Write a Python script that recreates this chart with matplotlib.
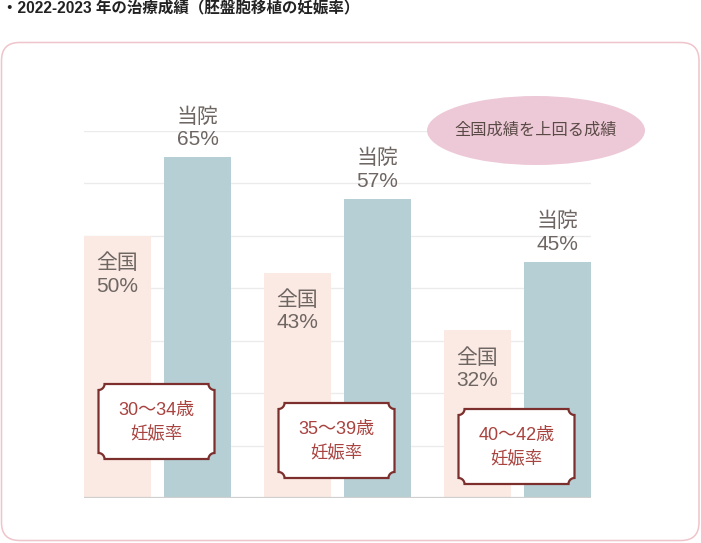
import numpy as np
import matplotlib
matplotlib.use("Agg")
import matplotlib.pyplot as plt
from matplotlib.patches import FancyBboxPatch, Ellipse, PathPatch
from matplotlib.path import Path

# Latin digits from Liberation Sans, Japanese glyphs fall back to Noto CJK
plt.rcParams['font.family'] = ['Liberation Sans', 'Noto Sans CJK JP', 'DejaVu Sans']

# data
age_groups = ['30〜34歳', '35〜39歳', '40〜42歳']
national = [50, 43, 32]
clinic = [65, 57, 45]
national_name = '全国'
clinic_name = '当院'
title = '・2022-2023 年の治療成績（胚盤胞移植の妊娠率）'
badge = '全国成績を上回る成績'
grid_ticks = [10, 20, 30, 40, 50, 60, 70]

# colours
c_nat = '#fbe9e3'
c_cli = '#b5cfd4'
c_txt = '#6e6663'
c_red = '#a8433f'
c_border = '#7c2f2c'

W, H = 701, 543
fig = plt.figure(figsize=(W / 100, H / 100), dpi=100)

# main bar axes: y=0 at px 498, y=70 at px 131, x from px 84 to 591
ax = fig.add_axes([84 / W, (H - 498) / H, 507 / W, (498 - 131) / H])
ax.set_xlim(-0.4083, 2.4083)
ax.set_ylim(0, 70)
ax.patch.set_alpha(0)
for s in ax.spines.values():
    s.set_visible(False)
ax.set_xticks([])
ax.set_yticks([])
for t in grid_ticks:
    ax.axhline(t, color='#ebebeb', lw=1, zorder=0)
ax.axhline(0, color='#cfcfcf', lw=1.6, zorder=3)

x = np.arange(len(age_groups))
off = 40 / 180
bw = 67 / 180
ax.bar(x - off, national, bw, color=c_nat, zorder=2)
ax.bar(x + off, clinic, bw, color=c_cli, zorder=2)

for i in range(len(x)):
    ax.text(x[i] - off, national[i] - 3.4, f'{national_name}\n{national[i]}%',
            ha='center', va='top', fontsize=15, color=c_txt, linespacing=1.22, zorder=4)
    ax.text(x[i] + off, clinic[i] + 1.6, f'{clinic_name}\n{clinic[i]}%',
            ha='center', va='bottom', fontsize=15, color=c_txt, linespacing=1.22, zorder=4)

# overlay in pixel coordinates for decorations
ov = fig.add_axes([0, 0, 1, 1], zorder=5)
ov.set_xlim(0, W)
ov.set_ylim(H, 0)
ov.axis('off')
ov.patch.set_alpha(0)

ov.text(2, 9, title, fontsize=11.2, fontweight='bold', color='#222222', va='center', ha='left')

frame = FancyBboxPatch((1.5, 42.5), 697.5, 498, boxstyle='round,pad=0,rounding_size=18',
                       fc='none', ec='#efc4ca', lw=1.1)
ov.add_patch(frame)

ov.add_patch(Ellipse((536, 130.5), 218, 69, fc='#edc9d7', ec='none'))
ov.text(536, 130.5, badge, ha='center', va='center', fontsize=11.7, color='#5a4a46')


def ticket(cx, cy, w, h, r=6):
    x0, x1 = cx - w / 2, cx + w / 2
    y0, y1 = cy - h / 2, cy + h / 2
    t = np.linspace(0, np.pi / 2, 12)
    pts = []
    pts += list(zip(x0 + r * np.sin(t), y0 + r * np.cos(t)))
    pts += list(zip(x1 - r * np.cos(t), y0 + r * np.sin(t)))
    pts += list(zip(x1 - r * np.sin(t), y1 - r * np.cos(t)))
    pts += list(zip(x0 + r * np.cos(t), y1 - r * np.sin(t)))
    pts.append(pts[0])
    codes = [Path.MOVETO] + [Path.LINETO] * (len(pts) - 2) + [Path.CLOSEPOLY]
    return Path(pts, codes)


box_centers = [(156.5, 421.5), (336.5, 440.5), (516.5, 446.5)]
for (bx, by), label in zip(box_centers, age_groups):
    ov.add_patch(PathPatch(ticket(bx, by, 116, 75), fc='white', ec=c_border, lw=1.6))
    ov.text(bx, by - 11, label, ha='center', va='center', fontsize=13, color=c_red)
    ov.text(bx, by + 11, '妊娠率', ha='center', va='center', fontsize=12.5, color=c_red)

fig.savefig('out.png', dpi=100)
